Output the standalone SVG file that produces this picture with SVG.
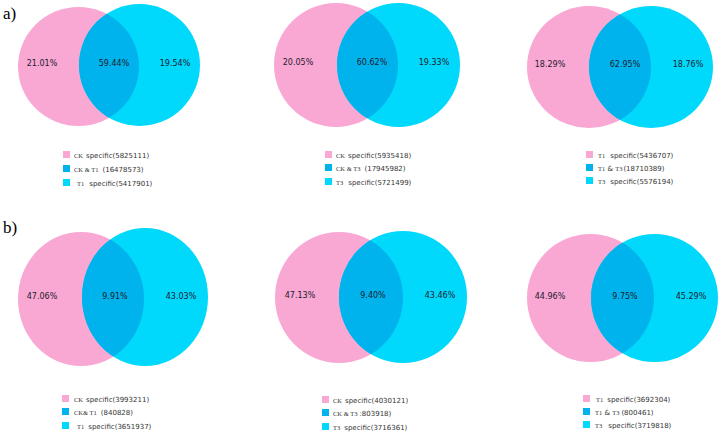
<svg xmlns="http://www.w3.org/2000/svg" width="721" height="434" viewBox="0 0 721 434">
<style>
.pk{fill:#f9a7d3}
.cy{fill:#00d8fc}
.ov{fill:#00b3ec}
.pct{font-family:"DejaVu Sans",Verdana,sans-serif;font-size:8px;fill:#1c1c2e;text-anchor:middle}
.lg{font-family:"DejaVu Sans",Verdana,sans-serif;font-size:7px;fill:#333}
.sr{font-family:"Liberation Serif","Times New Roman",serif;font-size:6.5px}
.lab{font-family:"Liberation Serif","Times New Roman",serif;font-size:17px;fill:#000}
</style>
<defs>
<clipPath id="c1"><ellipse cx="78.5" cy="66.5" rx="60.5" ry="59.5"/></clipPath>
<clipPath id="c2"><ellipse cx="336" cy="65" rx="62" ry="62"/></clipPath>
<clipPath id="c3"><ellipse cx="589" cy="67" rx="62" ry="61"/></clipPath>
<clipPath id="c4"><ellipse cx="81" cy="299" rx="63" ry="67"/></clipPath>
<clipPath id="c5"><ellipse cx="339" cy="297.5" rx="64" ry="65.5"/></clipPath>
<clipPath id="c6"><ellipse cx="590.5" cy="298" rx="63.5" ry="64"/></clipPath>
</defs>
<rect width="721" height="434" fill="#fff"/>
<text class="lab" x="3" y="19">a)</text>
<text class="lab" x="3" y="233">b)</text>

<g id="venn-a1">
<ellipse class="pk" cx="78.5" cy="66.5" rx="60.5" ry="59.5"/>
<ellipse class="cy" cx="139.5" cy="65" rx="60.5" ry="61"/>
<ellipse class="ov" cx="139.5" cy="65" rx="60.5" ry="61" clip-path="url(#c1)"/>
<text class="pct" x="42" y="66">21.01%</text>
<text class="pct" x="114" y="66">59.44%</text>
<text class="pct" x="175" y="66">19.54%</text>
<rect class="pk" x="63" y="151" width="7" height="7"/>
<rect class="ov" x="63" y="165" width="7" height="7"/>
<rect class="cy" x="63" y="179" width="7" height="7"/>
<text class="lg" x="74" y="158"><tspan class="sr">CK</tspan><tspan dx="3">specific(5825111)</tspan></text>
<text class="lg" x="74" y="172"><tspan class="sr">CK &amp; T1</tspan><tspan dx="4">(16478573)</tspan></text>
<text class="lg" x="77" y="186"><tspan class="sr">T1</tspan><tspan dx="5">specific(5417901)</tspan></text>
</g>

<g id="venn-a2">
<ellipse class="pk" cx="336" cy="65" rx="62" ry="62"/>
<ellipse class="cy" cx="398.5" cy="65" rx="61.5" ry="62"/>
<ellipse class="ov" cx="398.5" cy="65" rx="61.5" ry="62" clip-path="url(#c2)"/>
<text class="pct" x="298" y="65">20.05%</text>
<text class="pct" x="372" y="65">60.62%</text>
<text class="pct" x="434" y="65">19.33%</text>
<rect class="pk" x="325" y="151" width="7" height="7"/>
<rect class="ov" x="325" y="164" width="7" height="7"/>
<rect class="cy" x="325" y="178" width="7" height="7"/>
<text class="lg" x="336" y="158"><tspan class="sr">CK</tspan><tspan dx="3">specific(5935418)</tspan></text>
<text class="lg" x="336" y="171"><tspan class="sr">CK &amp; T3</tspan><tspan dx="4">(17945982)</tspan></text>
<text class="lg" x="336" y="185"><tspan class="sr">T3</tspan><tspan dx="5">specific(5721499)</tspan></text>
</g>

<g id="venn-a3">
<ellipse class="pk" cx="589" cy="67" rx="62" ry="61"/>
<ellipse class="cy" cx="651" cy="67" rx="62" ry="61"/>
<ellipse class="ov" cx="651" cy="67" rx="62" ry="61" clip-path="url(#c3)"/>
<text class="pct" x="550" y="67">18.29%</text>
<text class="pct" x="625" y="67">62.95%</text>
<text class="pct" x="688" y="67">18.76%</text>
<rect class="pk" x="586" y="151" width="7" height="7"/>
<rect class="ov" x="586" y="164" width="7" height="7"/>
<rect class="cy" x="586" y="177" width="7" height="7"/>
<text class="lg" x="598" y="158"><tspan class="sr">T1</tspan><tspan dx="5">specific(5436707)</tspan></text>
<text class="lg" x="598" y="171"><tspan class="sr">T1</tspan> &amp; <tspan class="sr">T3</tspan><tspan dx="1">(18710389)</tspan></text>
<text class="lg" x="598" y="184"><tspan class="sr">T3</tspan><tspan dx="5">specific(5576194)</tspan></text>
</g>

<g id="venn-b1">
<ellipse class="pk" cx="81" cy="299" rx="63" ry="67"/>
<ellipse class="cy" cx="145" cy="297" rx="63" ry="69"/>
<ellipse class="ov" cx="145" cy="297" rx="63" ry="69" clip-path="url(#c4)"/>
<text class="pct" x="42" y="299">47.06%</text>
<text class="pct" x="115" y="299">9.91%</text>
<text class="pct" x="181" y="299">43.03%</text>
<rect class="pk" x="62" y="395" width="7" height="7"/>
<rect class="ov" x="62" y="408" width="7" height="7"/>
<rect class="cy" x="62" y="422" width="7" height="7"/>
<text class="lg" x="74" y="402"><tspan class="sr">CK</tspan><tspan dx="3">specific(3993211)</tspan></text>
<text class="lg" x="74" y="415"><tspan class="sr">CK&amp; T1</tspan><tspan dx="4">(840828)</tspan></text>
<text class="lg" x="77" y="429"><tspan class="sr">T1</tspan><tspan dx="4">specific(3651937)</tspan></text>
</g>

<g id="venn-b2">
<ellipse class="pk" cx="339" cy="297.5" rx="64" ry="65.5"/>
<ellipse class="cy" cx="403" cy="297" rx="64" ry="66"/>
<ellipse class="ov" cx="403" cy="297" rx="64" ry="66" clip-path="url(#c5)"/>
<text class="pct" x="300" y="298">47.13%</text>
<text class="pct" x="373" y="298">9.40%</text>
<text class="pct" x="440" y="298">43.46%</text>
<rect class="pk" x="322" y="396" width="7" height="7"/>
<rect class="ov" x="322" y="409" width="7" height="7"/>
<rect class="cy" x="322" y="423" width="7" height="7"/>
<text class="lg" x="333" y="403"><tspan class="sr">CK</tspan><tspan dx="3">specific(4030121)</tspan></text>
<text class="lg" x="333" y="416"><tspan class="sr">CK &amp; T3</tspan><tspan dx="2">:803918)</tspan></text>
<text class="lg" x="333" y="430"><tspan class="sr">T3</tspan><tspan dx="4">specific(3716361)</tspan></text>
</g>

<g id="venn-b3">
<ellipse class="pk" cx="590.5" cy="298" rx="63.5" ry="64"/>
<ellipse class="cy" cx="654.5" cy="298" rx="63.5" ry="64"/>
<ellipse class="ov" cx="654.5" cy="298" rx="63.5" ry="64" clip-path="url(#c6)"/>
<text class="pct" x="550" y="299">44.96%</text>
<text class="pct" x="625" y="299">9.75%</text>
<text class="pct" x="691" y="299">45.29%</text>
<rect class="pk" x="583" y="395" width="7" height="7"/>
<rect class="ov" x="583" y="408" width="7" height="7"/>
<rect class="cy" x="583" y="421" width="7" height="7"/>
<text class="lg" x="596" y="402"><tspan class="sr">T1</tspan><tspan dx="4">specific(3692304)</tspan></text>
<text class="lg" x="595" y="415"><tspan class="sr">T1</tspan> &amp; <tspan class="sr">T3</tspan><tspan dx="2">(800461)</tspan></text>
<text class="lg" x="595" y="428"><tspan class="sr">T3</tspan><tspan dx="6">specific(3719818)</tspan></text>
</g>
</svg>
